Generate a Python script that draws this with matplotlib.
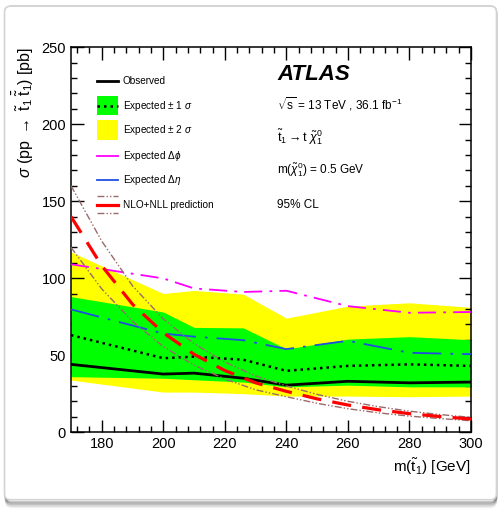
import matplotlib
matplotlib.use("Agg")
import matplotlib.pyplot as plt
from matplotlib.patches import FancyBboxPatch, Rectangle
from matplotlib.lines import Line2D

plt.rcParams["font.family"] = ["Liberation Sans", "DejaVu Sans"]
plt.rcParams["mathtext.fontset"] = "custom"
plt.rcParams["mathtext.rm"] = "Liberation Sans"
plt.rcParams["mathtext.it"] = "Liberation Sans:italic"

# limits (observed / expected) vs stop mass
mass = [170, 200, 210, 226, 240, 260, 280, 300]
observed = [44, 37.7, 38.3, 35, 30.5, 33, 32, 32.5]
expected = [63, 48, 49, 47, 39.8, 43, 44, 43]
exp_1s_up = [88, 78, 68, 67.7, 54, 60.4, 62, 60]
exp_1s_dn = [36, 35, 34, 32.5, 29.4, 30.5, 29.4, 29.4]
exp_2s_up = [117, 90, 92, 89.6, 74, 81.8, 84, 81]
exp_2s_dn = [33.8, 26, 26, 25, 23.4, 23.4, 23, 23.4]
exp_dphi = [109, 99.8, 93.3, 91, 91.8, 81.8, 77.5, 78]
exp_deta = [79.7, 64, 62, 59.7, 53.9, 59.3, 51.5, 50.6]

# NLO+NLL theory cross section
xs_mass = [170, 180, 190, 200, 210, 220, 230, 240, 250, 260, 270, 280, 290, 300]
xs_nom = [140, 108, 83, 64.5, 50.5, 40, 32, 26.5, 21.6, 17.6, 14.5, 12.0, 10.1, 8.5]
xs_up = [160, 124, 95, 73.5, 57.5, 45.5, 36.5, 30, 24.5, 20, 16.5, 13.6, 11.4, 9.6]
xs_dn = [120, 93, 72, 55.5, 43.5, 34.5, 27.5, 23, 18.7, 15.2, 12.5, 10.4, 8.8, 7.4]

GREEN = "#00ff00"
YELLOW = "#ffff00"
MAGENTA = "#ff00ff"
BLUE = "#1f4fe0"
RED = "#ff0000"
BROWN = "#9a6a6a"

fig = plt.figure(figsize=(5.02, 5.12), dpi=100)

# screenshot-like frame with a soft shadow underneath
for i, a in enumerate([0.06, 0.10, 0.16, 0.22]):
    fig.patches.append(FancyBboxPatch((0.012, 0.010 + 0.003 * i), 0.976, 0.968,
                                      boxstyle="round,pad=0,rounding_size=0.012",
                                      transform=fig.transFigure, facecolor="none",
                                      edgecolor=(0, 0, 0, a), linewidth=2.0, zorder=-10))
fig.patches.append(FancyBboxPatch((0.009, 0.024), 0.98, 0.964,
                                  boxstyle="round,pad=0,rounding_size=0.012",
                                  transform=fig.transFigure, facecolor="white",
                                  edgecolor="#d4d4d4", linewidth=1.2, zorder=-9))

ax = fig.add_axes([0.1414, 0.156, 0.7968, 0.752])
ax.set_zorder(5)
ax.patch.set_alpha(0)

ax.fill_between(mass, exp_2s_dn, exp_2s_up, color=YELLOW, lw=0, zorder=1)
ax.fill_between(mass, exp_1s_dn, exp_1s_up, color=GREEN, lw=0, zorder=2)
ax.plot(mass, exp_dphi, color=MAGENTA, lw=1.3, dashes=[10, 4, 1.5, 4], zorder=3)
ax.plot(mass, exp_deta, color=BLUE, lw=1.3, dashes=[16, 5, 1.5, 5], zorder=3)
ax.plot(mass, expected, color="black", lw=1.8, dashes=[1, 1.6], zorder=4)
ax.plot(mass, observed, color="black", lw=2.0, zorder=4)
ax.plot(xs_mass, xs_up, color=BROWN, lw=1.0, dashes=[5, 1.5, 1, 1.5, 1, 1.5], zorder=5)
ax.plot(xs_mass, xs_dn, color=BROWN, lw=1.0, dashes=[5, 1.5, 1, 1.5, 1, 1.5], zorder=5)
ax.plot(xs_mass, xs_nom, color=RED, lw=2.3, dashes=[6, 3.5], zorder=6)

ax.set_xlim(170, 300)
ax.set_ylim(0, 250)
ax.set_xticks(range(180, 301, 20))
ax.set_xticks(range(172, 301, 4), minor=True)
ax.set_yticks(range(0, 251, 50))
ax.set_yticks(range(0, 251, 10), minor=True)
ax.tick_params(which="both", direction="in", top=True, right=True, labelsize=10.5)
ax.tick_params(which="major", length=9, width=1)
ax.tick_params(which="minor", length=4.5, width=1)
for s in ax.spines.values():
    s.set_linewidth(1.1)

ax.set_xlabel(r"m($\tilde{\mathrm{t}}_{1}$) [GeV]", loc="right", fontsize=11)
ax.set_ylabel(r"$\sigma$ (pp $\rightarrow$ $\tilde{\mathrm{t}}_{1}\;\bar{\tilde{\mathrm{t}}}_{1}$) [pb]",
              loc="top", fontsize=11.5)

# legend drawn by hand in axes coordinates
tr = ax.transAxes
hx0, hx1, tx = 0.065, 0.118, 0.13
rows = [0.911, 0.848, 0.785, 0.718, 0.654, 0.590]
fs = 7.2
ax.add_line(Line2D([hx0, hx1], [rows[0]] * 2, transform=tr, color="black", lw=2.0))
ax.text(tx, rows[0], "Observed", transform=tr, fontsize=fs, va="center")
ax.add_patch(Rectangle((hx0, rows[1] - 0.025), hx1 - hx0, 0.05, transform=tr,
                       facecolor=GREEN, edgecolor="none"))
ax.add_line(Line2D([hx0, hx1], [rows[1]] * 2, transform=tr, color="black", lw=1.8,
                   dashes=[1, 1.6]))
ax.text(tx, rows[1], r"Expected $\pm$ 1 $\sigma$", transform=tr, fontsize=fs, va="center")
ax.add_patch(Rectangle((hx0, rows[2] - 0.025), hx1 - hx0, 0.05, transform=tr,
                       facecolor=YELLOW, edgecolor="none"))
ax.text(tx, rows[2], r"Expected $\pm$ 2 $\sigma$", transform=tr, fontsize=fs, va="center")
ax.add_line(Line2D([hx0, hx1], [rows[3]] * 2, transform=tr, color=MAGENTA, lw=1.3))
ax.text(tx, rows[3], r"Expected $\Delta\phi$", transform=tr, fontsize=fs, va="center")
ax.add_line(Line2D([hx0, hx1], [rows[4]] * 2, transform=tr, color=BLUE, lw=1.3))
ax.text(tx, rows[4], r"Expected $\Delta\eta$", transform=tr, fontsize=fs, va="center")
ax.add_line(Line2D([hx0, hx1], [rows[5]] * 2, transform=tr, color=RED, lw=2.3))
for dy in (0.022, -0.022):
    ax.add_line(Line2D([hx0, hx1], [rows[5] + dy] * 2, transform=tr, color=BROWN, lw=1.0,
                       dashes=[5, 1.5, 1, 1.5, 1, 1.5]))
ax.text(tx, rows[5], "NLO+NLL prediction", transform=tr, fontsize=fs, va="center")

# labels on the right
lx = 0.515
ax.text(lx, 0.93, "ATLAS", transform=tr, fontsize=16, fontweight="bold", style="italic",
        va="center")
ax.text(lx, 0.853, r"$\sqrt{\mathrm{s}}$ = 13 TeV , 36.1 fb$^{-1}$", transform=tr,
        fontsize=8.5, va="center")
ax.text(lx, 0.766, r"$\tilde{\mathrm{t}}_{1} \rightarrow \mathrm{t}\ \tilde{\chi}_{1}^{0}$",
        transform=tr, fontsize=9, va="center")
ax.text(lx, 0.683, r"m($\tilde{\chi}_{1}^{0}$) = 0.5 GeV", transform=tr, fontsize=8.5,
        va="center")
ax.text(lx, 0.59, "95% CL", transform=tr, fontsize=8.5, va="center")

fig.savefig("out.png", dpi=100)
